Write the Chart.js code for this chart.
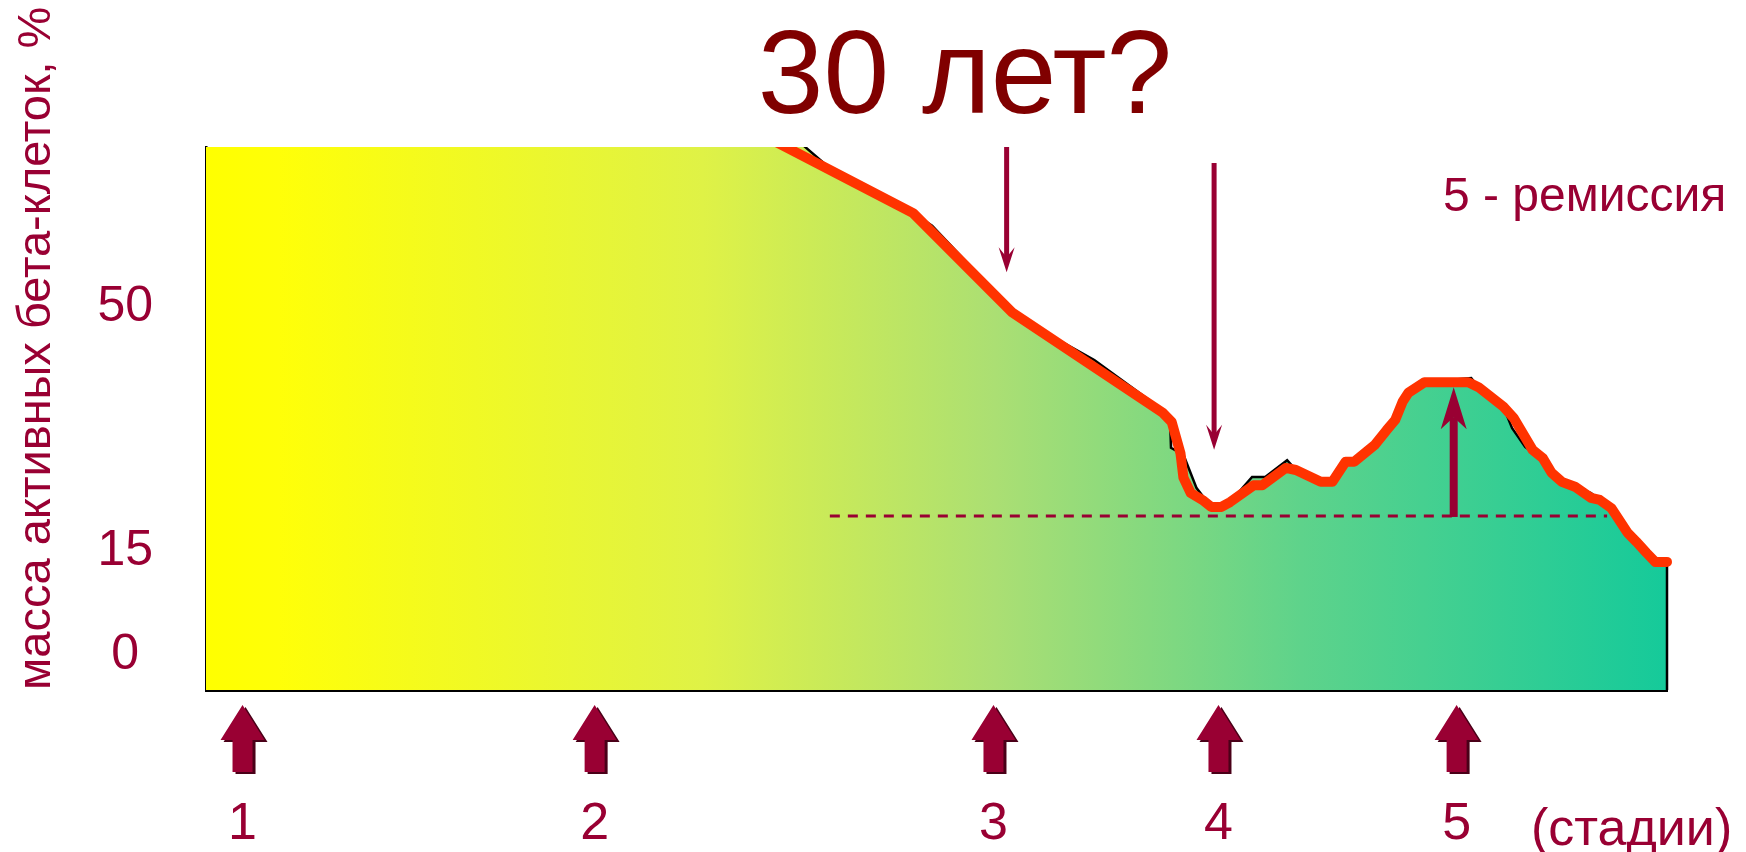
<!DOCTYPE html>
<html>
<head>
<meta charset="utf-8">
<script src="https://cdn.jsdelivr.net/npm/chart.js@4.4.0/dist/chart.umd.min.js"></script>
<style>
  html, body { margin: 0; padding: 0; background: #ffffff; }
  #wrap { width: 1746px; height: 852px; position: relative; }
</style>
</head>
<body>
<div id="wrap"><canvas id="chart" width="1746" height="852"></canvas></div>
<script>
// Stages of the disease along the time axis (time units 0–100)
const stageLabels = ['1', '2', '3', '4', '5'];
const stageX = [2.5, 26.6, 53.9, 69.3, 85.6];

// Y axis ticks, % of active beta-cell mass
const yTicks = [0, 15, 50];

// Active beta-cell mass over time (red curve)
const massX = [10.3, 48.4, 55.2, 65.5, 66.1, 66.5, 66.7, 66.9, 67.4, 68.2, 68.8, 69.5, 70.1,
  71.7, 72.3, 73.9, 74.6, 76.3, 77.1, 78.0, 78.6, 80.0, 80.8, 81.4, 81.9, 82.3, 83.4,
  86.4, 87.1, 88.8, 89.5, 90.8, 91.5, 92.1, 92.8, 93.7, 94.8, 95.4, 96.2, 97.3, 97.9,
  98.6, 99.2, 100];
const massY = [100, 58.5, 44.2, 29.8, 28.5, 25.5, 24.0, 20.5, 18.3, 17.3, 16.3, 16.3, 17.0,
  19.4, 19.4, 21.9, 21.6, 19.9, 19.9, 22.8, 22.8, 25.2, 27.3, 28.8, 31.4, 32.7, 34.2,
  34.2, 33.5, 30.7, 29.1, 24.5, 23.3, 21.2, 19.9, 19.2, 17.6, 17.3, 16.1, 12.6, 11.3,
  9.7, 8.4, 8.4];

// Contour of the shaded area (black outline)
const edgeX = [0, 23.4, 43.05, 48.4, 49.7, 55.7, 60.8, 65.5, 66.0, 66.05, 66.9, 67.8, 68.8, 69.5, 70.1,
  71.6, 72.5, 74.0, 74.6, 76.3, 77.1, 78.0, 78.6, 80.0, 80.8, 81.4, 81.9, 82.3, 83.4,
  86.6, 87.1, 88.8, 89.4, 90.3, 91.5, 92.1, 92.8, 93.7, 94.8, 95.4, 96.2, 97.3, 97.9,
  98.6, 99.2, 100, 100];
const edgeY = [100, 100, 64.3, 58.5, 56.7, 43.4, 37.4, 30.2, 28.1, 24.8, 23.8, 19.0, 16.3, 16.3, 17.0,
  20.6, 20.6, 23.0, 21.6, 19.9, 19.9, 22.8, 22.8, 25.2, 27.3, 28.8, 31.4, 32.7, 34.2,
  34.8, 33.5, 30.7, 27.6, 24.9, 23.3, 21.2, 19.9, 19.2, 18.3, 17.3, 16.1, 12.6, 11.3,
  9.7, 8.4, 8.4, -10];

// Threshold of 15 %
const thresholdX = [42.7, 95.9];
const thresholdValue = 15;

// Pointer arrows: position and the values they run between
const pointerX = [54.8, 69.0, 85.4];
const pointerFrom = [68, 65.7, 15];
const pointerTo = [50, 24.5, 33.5];

const FONT = '"Liberation Sans", Arial, Helvetica, sans-serif';
const MAROON = '#990033';

const toPoints = (xs, ys) => xs.map((v, i) => ({ x: v, y: ys[i] }));

function areaGradient(context) {
  const chart = context.chart;
  const area = chart.chartArea;
  if (!area) return '#c8e86c';
  const g = chart.ctx.createLinearGradient(area.left, 0, area.right, 0);
  g.addColorStop(0.00, '#ffff00');
  g.addColorStop(0.05, '#ffff08');
  g.addColorStop(0.34, '#dff246');
  g.addColorStop(0.54, '#abdf73');
  g.addColorStop(0.75, '#5ed38b');
  g.addColorStop(1.00, '#15ca9a');
  return g;
}

function drawPointer(ctx, px, y0, y1, shaftW, headW, headL, notch, color) {
  const dir = y1 > y0 ? 1 : -1;
  const shaftEnd = y1 - dir * (headL - notch);
  ctx.fillStyle = color;
  ctx.fillRect(px - shaftW / 2, Math.min(y0, shaftEnd), shaftW, Math.abs(shaftEnd - y0) + 1);
  ctx.beginPath();
  ctx.moveTo(px, y1);
  ctx.lineTo(px - headW / 2, y1 - dir * headL);
  ctx.lineTo(px, y1 - dir * (headL - notch));
  ctx.lineTo(px + headW / 2, y1 - dir * headL);
  ctx.closePath();
  ctx.fill();
}

function stageShape(ctx, px, top) {
  ctx.beginPath();
  ctx.moveTo(px, top);
  ctx.lineTo(px + 22, top + 35);
  ctx.lineTo(px + 10, top + 35);
  ctx.lineTo(px + 10, top + 67);
  ctx.lineTo(px - 10, top + 67);
  ctx.lineTo(px - 10, top + 35);
  ctx.lineTo(px - 22, top + 35);
  ctx.closePath();
  ctx.fill();
}

const decorations = {
  id: 'decorations',
  afterDatasetsDraw(chart) {
    const { ctx, chartArea } = chart;
    const xs = chart.scales.x;
    const ys = chart.scales.y;
    ctx.save();

    // arrows pointing at the curve
    pointerX.forEach((v, i) => {
      const px = xs.getPixelForValue(v);
      const a = ys.getPixelForValue(pointerFrom[i]);
      const b = ys.getPixelForValue(pointerTo[i]);
      if (b > a) {
        drawPointer(ctx, px, a, b, 5, 16, 25, 10, MAROON);
      } else {
        drawPointer(ctx, px, a, b, 8, 26, 42, 12, MAROON);
      }
    });

    // stage markers under the axis
    const top = chartArea.bottom + 15;
    stageX.forEach(v => {
      const px = xs.getPixelForValue(v);
      ctx.fillStyle = '#4a0018';
      stageShape(ctx, px + 3, top + 2);
      ctx.fillStyle = MAROON;
      stageShape(ctx, px, top);
    });

    // texts
    ctx.textBaseline = 'alphabetic';
    ctx.fillStyle = '#800000';
    ctx.textAlign = 'center';
    ctx.font = '118px ' + FONT;
    ctx.fillText('30 лет?', 965, 113);

    ctx.fillStyle = MAROON;
    ctx.textAlign = 'left';
    ctx.font = '48px ' + FONT;
    ctx.fillText('5 - ремиссия', 1443, 211);

    ctx.font = '52px ' + FONT;
    ctx.fillText('(стадии)', 1531, 845);

    ctx.restore();
  }
};

new Chart(document.getElementById('chart'), {
  type: 'line',
  data: {
    datasets: [
      {
        label: 'масса активных бета-клеток',
        data: toPoints(massX, massY),
        borderColor: '#ff3300',
        borderWidth: 10,
        borderJoinStyle: 'round',
        borderCapStyle: 'round',
        pointRadius: 0,
        fill: false,
        tension: 0,
        clip: { left: 0, top: 0, right: 5, bottom: 0 }
      },
      {
        label: 'порог 15 %',
        data: thresholdX.map(v => ({ x: v, y: thresholdValue })),
        borderColor: MAROON,
        borderWidth: 3,
        borderDash: [10, 8],
        pointRadius: 0,
        fill: false
      },
      {
        label: 'область',
        data: toPoints(edgeX, edgeY),
        borderColor: '#000000',
        borderWidth: 2.5,
        backgroundColor: areaGradient,
        pointRadius: 0,
        fill: 'start',
        tension: 0,
        clip: { left: 0, top: 0, right: 2, bottom: 0 }
      }
    ]
  },
  options: {
    responsive: false,
    devicePixelRatio: 1,
    animation: false,
    events: [],
    layout: { padding: { top: 147, right: 79, bottom: 0, left: 0 } },
    plugins: {
      legend: { display: false },
      tooltip: { enabled: false },
      title: { display: false }
    },
    scales: {
      x: {
        type: 'linear',
        min: 0,
        max: 100,
        afterBuildTicks: s => { s.ticks = stageX.map(v => ({ value: v })); },
        afterFit: s => { s.height = 162; },
        grid: { display: false, drawTicks: false },
        border: { display: true, color: '#000000', width: 3 },
        ticks: {
          autoSkip: false,
          maxRotation: 0,
          padding: 103,
          color: MAROON,
          font: { family: FONT, size: 52 },
          callback: (v, i) => stageLabels[i]
        }
      },
      y: {
        type: 'linear',
        min: -10,
        max: 68,
        afterBuildTicks: s => { s.ticks = yTicks.map(v => ({ value: v })); },
        afterFit: s => { s.width = 206; },
        grid: { display: false, drawTicks: false },
        border: { display: true, color: '#000000', width: 2.5 },
        ticks: {
          crossAlign: 'center',
          padding: 53,
          labelOffset: 35,
          color: MAROON,
          font: { family: FONT, size: 50 },
          callback: v => String(v)
        },
        title: {
          display: true,
          text: 'масса активных бета-клеток, %',
          align: 'start',
          color: MAROON,
          font: { family: FONT, size: 47 },
          padding: { top: 9, bottom: 0 }
        }
      }
    }
  },
  plugins: [decorations]
});
</script>
</body>
</html>
